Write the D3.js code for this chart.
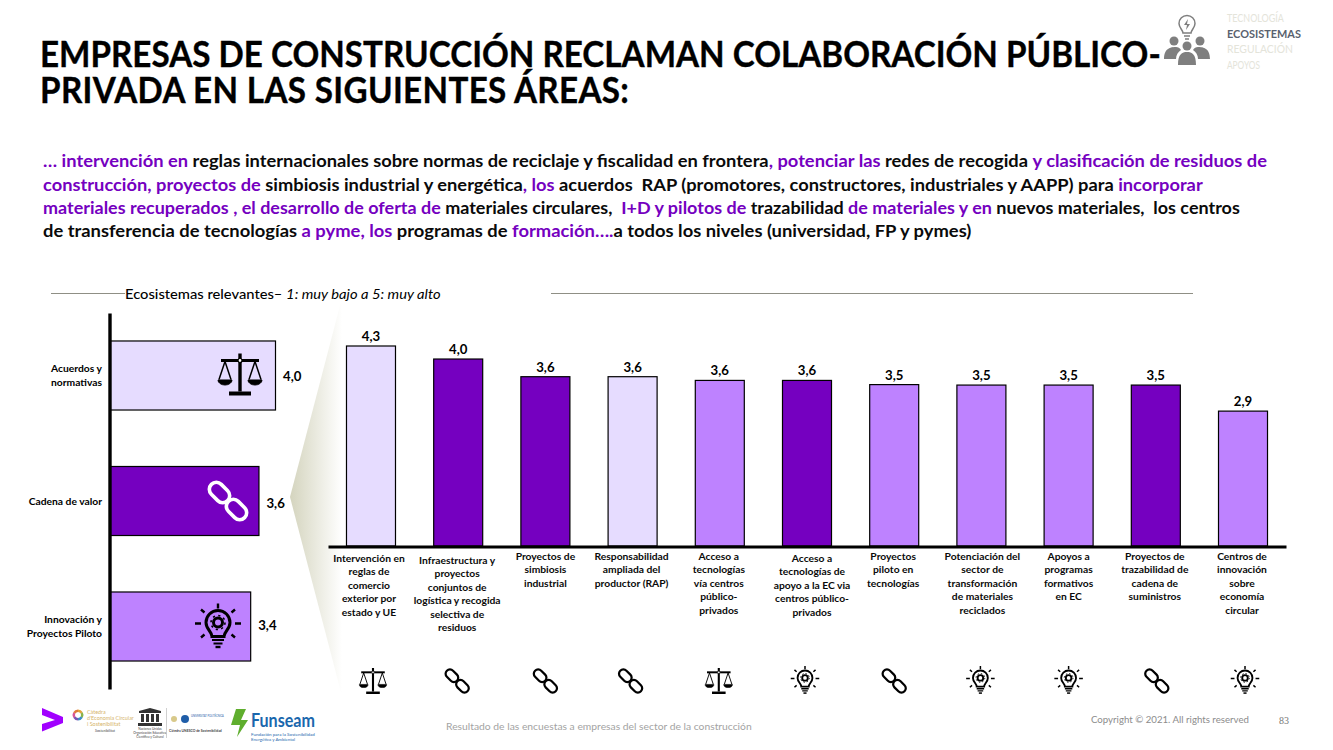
<!DOCTYPE html>
<html><head><meta charset="utf-8">
<script src="https://cdn.jsdelivr.net/npm/d3@7/dist/d3.min.js"></script>
<style>html,body{margin:0;padding:0;background:#fff}svg{display:block}text{font-family:Lato,"Open Sans",sans-serif}</style>
</head><body><svg id="c" width="1333" height="750"></svg>
<script>
// ---- data ----
const ecoCategories = [["Acuerdos y","normativas"],["Cadena de valor"],["Innovación y","Proyectos Piloto"]];
const ecoValues = [4.0,3.6,3.4];
const ecoGroups = ["norm","cadena","innov"];
const areaLabels = [
 ["Intervención en","reglas de","comercio","exterior por","estado y UE"],
 ["Infraestructura y","proyectos","conjuntos de","logística y recogida","selectiva de","residuos"],
 ["Proyectos de","simbiosis","industrial"],
 ["Responsabilidad","ampliada del","productor (RAP)"],
 ["Acceso a","tecnologías","vía centros","público-","privados"],
 ["Acceso a","tecnologías de","apoyo a la EC via","centros público-","privados"],
 ["Proyectos","piloto en","tecnologías"],
 ["Potenciación del","sector de","transformación","de materiales","reciclados"],
 ["Apoyos a","programas","formativos","en EC"],
 ["Proyectos de","trazabilidad de","cadena de","suministros"],
 ["Centros de","innovación","sobre","economía","circular"]];
const areaValues = [4.30,4.02,3.64,3.64,3.56,3.56,3.47,3.46,3.46,3.46,2.90];
const areaGroups = ["norm","cadena","cadena","norm","innov","cadena","innov","innov","innov","cadena","innov"];
const areaIcons = ["norm","cadena","cadena","cadena","norm","innov","cadena","innov","innov","cadena","innov"];
const sections = ["TECNOLOGÍA","ECOSISTEMAS","REGULACIÓN","APOYOS"];
const titleLines = ["EMPRESAS DE CONSTRUCCIÓN RECLAMAN COLABORACIÓN PÚBLICO-","PRIVADA EN LAS SIGUIENTES ÁREAS:"];
const bodyLines = [
 [["… intervención en ",1],["reglas internacionales sobre normas de reciclaje y fiscalidad en frontera",0],[", potenciar las ",1],["redes de recogida ",0],["y clasificación de residuos de",1]],
 [["construcción, proyectos de ",1],["simbiosis industrial y energética",0],[", los ",1],["acuerdos  RAP (promotores, constructores, industriales y AAPP) para ",0],["incorporar",1]],
 [["materiales recuperados , el desarrollo de oferta de ",1],["materiales circulares,  ",0],["I+D y pilotos de ",1],["trazabilidad ",0],["de materiales y en ",1],["nuevos materiales,  los centros",0]],
 [["de transferencia de tecnologías ",0],["a pyme, los ",1],["programas de ",0],["formación….",1],["a todos los niveles (universidad, FP y pymes)",0]]];

// ---- layout ----
const BODY_W=[1224,1160,1197,929], BODY_Y=[167,191,214,237];
const LABEL_DY=[2,4,0,0,0,2,0,0,0,0,0], LABEL_DX=[-2,-1,0,-1,-1,5,-1,1,0,-1,-1];
const ICON_DX=[2,-1,0,-2,-1,-2,0,-1,0,1,2];
const PURPLE="#7500c0";
const color=d3.scaleOrdinal().domain(["norm","cadena","innov"]).range(["#e6dcff","#7500c0","#be82ff"]);
const svg=d3.select("#c");
const fmt=v=>d3.format(".1f")(v).replace(".",",");

function fit(sel,x,y,w){
  const k=w/sel.node().getComputedTextLength();
  sel.attr("transform",`translate(${x},${y}) scale(${k},1)`);
}
function put(t,x,y,w,o={}){
  const s=svg.append("text").text(t).attr("font-size",o.size||11).attr("font-weight",o.weight||400)
    .attr("fill",o.fill||"#000").attr("font-style",o.style||null);
  if(w) fit(s,x,y,w); else s.attr("x",x).attr("y",y).attr("text-anchor",o.anchor||"start");
  return s;
}

// ---- icons, drawn around (0,0) in a 44-unit box ----
function icon(g,type,c){
  g.attr("fill","none").attr("stroke",c).attr("stroke-linecap","butt");
  if(type==="norm"){
    g.append("path").attr("d","M0,-21V17").attr("stroke-width",3.4);
    g.append("path").attr("d","M-19,-14H19").attr("stroke-width",3.2);
    g.append("path").attr("d","M-11,19H11").attr("stroke-width",4);
    g.append("circle").attr("r",2).attr("cy",-14).attr("fill","#fff").attr("stroke-width",1.2);
    [-1,1].forEach(s=>{
      g.append("path").attr("d",`M${s*15},-13L${s*21},5M${s*15},-13L${s*9},5`).attr("stroke-width",1.5);
      g.append("path").attr("d",`M${s*8},5.5H${s*22}A${s*-7},5 0 0 ${s>0?1:0} ${s*8},5.5Z`).attr("fill",c).attr("stroke-width",1);
    });
  } else if(type==="cadena"){
    [[-8.5,-8.5],[8.5,8.5]].forEach(p=>{
      g.append("rect").attr("x",-11.5).attr("y",-7).attr("width",23).attr("height",14).attr("rx",7)
       .attr("transform",`translate(${p[0]},${p[1]}) rotate(45)`).attr("stroke-width",3.6);
    });
  } else {
    g.append("path").attr("d","M-6,9C-6,4 -12,2 -12,-5A12,12 0 1 1 12,-5C12,2 6,4 6,9Z").attr("stroke-width",3);
    g.append("circle").attr("cy",-5).attr("r",4.5).attr("stroke-width",3);
    g.append("circle").attr("cy",-5).attr("r",7).attr("stroke-width",1.6).attr("stroke-dasharray","2.2 3.3");
    g.append("path").attr("d","M-6,12.5H6M-4.5,16H4.5").attr("stroke-width",2.2);
    g.append("path").attr("d","M-2.5,19.5H2.5").attr("stroke-width",2.4);
    g.append("path").attr("d","M0,-24V-19M-17,-18L-13.5,-15M17,-18L13.5,-15M-23,-4H-17M23,-4H17M-17,10L-13.5,7M17,10L13.5,7").attr("stroke-width",2.4);
  }
}

// ---- gradient wedge ----
const defs=svg.append("defs");
const lg=defs.append("linearGradient").attr("id","wedge").attr("x1",0).attr("x2",1).attr("y1",0).attr("y2",0);
lg.append("stop").attr("offset",0).attr("stop-color","#d4d4be");
lg.append("stop").attr("offset",1).attr("stop-color","#ffffff");
svg.append("path").attr("d","M290,497L342,298V696Z").attr("fill","url(#wedge)");

// ---- title & body ----
const ttl=svg.append("text").attr("font-size",36).attr("font-weight",700).attr("fill","#000").attr("stroke","#000").attr("stroke-width",.35);
const t0=ttl.append("tspan").text(titleLines[0]).attr("x",0).attr("y",0);
ttl.append("tspan").text(titleLines[1]).attr("x",0).attr("y",36).attr("letter-spacing",.36);
ttl.attr("transform",`translate(40,67) scale(${1121/t0.node().getComputedTextLength()},1)`);
bodyLines.forEach((line,i)=>{
  const t=svg.append("text").attr("font-size",16.6).attr("font-weight",700);
  line.forEach(([s,p])=>t.append("tspan").text(s).attr("fill",p?PURPLE:"#0a0a0a").style("white-space","pre"));
  t.style("white-space","pre");
  fit(t,43,BODY_Y[i],BODY_W[i]);
});

// ---- top right nav ----
sections.forEach((s,i)=>put(s,1227,[22,38,53,69][i],[57,74,66,33][i],{size:12,weight:i===1?700:400,fill:i===1?"#59626e":"#e4e4da"}));
const nav=svg.append("g").attr("transform","translate(1187,27)");
nav.append("path").attr("d","M-4,6C-4,3 -8,1 -8,-3.5A8,8 0 1 1 8,-3.5C8,1 4,3 4,6Z").attr("fill","none").attr("stroke","#7f7f7f").attr("stroke-width",1.5);
nav.append("path").attr("d","M1,-8L-3,-2H0L-1,3L3,-3H0Z").attr("fill","#7f7f7f");
nav.append("path").attr("d","M-3,9H3M-2,12H2").attr("stroke","#7f7f7f").attr("stroke-width",1.3);
[[-13,14,4.5],[13,14,4.5],[0,19,4.5]].forEach(p=>nav.append("circle").attr("cx",p[0]).attr("cy",p[1]).attr("r",p[2]).attr("fill","#7f7f7f"));
nav.append("path").attr("d","M-23,32C-23,21 -16,20 -11,20C-9,20 -7,21 -6,23C-9,25 -11,28 -11,32ZM23,32C23,21 16,20 11,20C9,20 7,21 6,23C9,25 11,28 11,32ZM-9,38C-9,27 -5,25 0,25C5,25 9,27 9,38Z").attr("fill","#7f7f7f");

// ---- section header ----
svg.append("path").attr("d","M51,293.5H125M551,293.5H1193").attr("stroke","#8f8f85").attr("stroke-width",1);
const hd=svg.append("text").attr("font-size",12.5).attr("fill","#000").style("white-space","pre");
hd.append("tspan").text("Ecosistemas relevantes– ").attr("font-weight",500);
hd.append("tspan").text("1: muy bajo a 5: muy alto").attr("font-style","italic");
fit(hd,125,299,316);

// ---- left bars ----
const ex=d3.scaleLinear().domain([0,4]).range([110,275.5]);
const ey=d3.scaleBand().domain(ecoGroups).range([313,689]).paddingInner(0.45).paddingOuter(0.223);
svg.selectAll(".eb").data(ecoValues).join("rect").attr("class","eb")
  .attr("x",ex(0)).attr("y",(d,i)=>ey(ecoGroups[i])).attr("width",d=>ex(d)-ex(0)).attr("height",ey.bandwidth())
  .attr("fill",(d,i)=>color(ecoGroups[i])).attr("stroke","#000").attr("stroke-width",1.2);
const ay=svg.append("g").attr("transform","translate(109.5,0)").call(d3.axisLeft(ey).tickSize(0).tickFormat(""));
ay.select(".domain").attr("stroke","#000").attr("stroke-width",3.4);
svg.selectAll(".ev").data(ecoValues).join("text").attr("class","ev").text(fmt)
  .attr("x",d=>ex(d)+7.5).attr("y",(d,i)=>ey(ecoGroups[i])+ey.bandwidth()/2+[1,2,-1][i]+4.5)
  .attr("font-size",13.2).attr("font-weight",700);
ecoCategories.forEach((ls,i)=>{
  const cy=ey(ecoGroups[i])+ey.bandwidth()/2;
  ls.forEach((l,j)=>svg.append("text").text(l).attr("x",102).attr("y",cy+(j-(ls.length-1)/2)*14+3.5)
    .attr("text-anchor","end").attr("font-size",10.3).attr("font-weight",700));
});
ecoGroups.forEach((g,i)=>{
  const s=svg.append("g").attr("transform",`translate(${[240,228,218][i]},${ey(g)+ey.bandwidth()/2-[1,0,-1][i]})`);
  icon(s,g,i===1?"#fff":"#000");
});

// ---- column chart ----
const x=d3.scaleBand().domain(d3.range(areaValues.length)).range([328,1286]).paddingInner(0.438).paddingOuter(0.212);
const y=d3.scaleLinear().domain([0,4.3]).range([546,346]);
svg.selectAll(".b").data(areaValues).join("rect").attr("class","b")
  .attr("x",(d,i)=>x(i)).attr("y",d=>y(d)).attr("width",x.bandwidth()).attr("height",d=>y(0)-y(d))
  .attr("fill",(d,i)=>color(areaGroups[i])).attr("stroke","#000").attr("stroke-width",1.2);
const ax=svg.append("g").attr("transform","translate(0,546.5)").call(d3.axisBottom(x).tickSize(0).tickFormat(""));
ax.select(".domain").attr("stroke","#000").attr("stroke-width",3);
svg.selectAll(".v").data(areaValues).join("text").attr("class","v").text(fmt)
  .attr("x",(d,i)=>x(i)+x.bandwidth()/2).attr("y",d=>y(d)-5).attr("text-anchor","middle")
  .attr("font-size",13.2).attr("font-weight",700);
areaLabels.forEach((ls,i)=>{
  const cx=x(i)+x.bandwidth()/2+LABEL_DX[i];
  ls.forEach((l,j)=>svg.append("text").text(l).attr("x",cx).attr("y",560+LABEL_DY[i]+j*13.4)
    .attr("text-anchor","middle").attr("font-size",10.3).attr("font-weight",700).attr("fill","#0a0a0a"));
  const s=svg.append("g").attr("transform",`translate(${x(i)+x.bandwidth()/2+ICON_DX[i]},681) scale(.62)`);
  icon(s,areaIcons[i],"#000");
});

// ---- footer ----
put("Resultado de las encuestas a empresas del sector de la construcción",446,730,306,{size:10,fill:"#a3a3a3"});
put("Copyright © 2021. All rights reserved",1091,723,158,{size:10,fill:"#8c8c8c"});
svg.append("text").text("83").attr("x",1279).attr("y",724).attr("font-size",10).attr("fill","#777").style("font-family","'Liberation Serif',serif");

// ---- logos ----
svg.append("path").attr("d","M42,708L63,717V723L42,731.5V724L55,720L42,715Z").attr("fill","#a100ff");
const ring=["#e2a33a","#8ab44a","#3b8fc4","#7a55b5","#d8559a","#e0793a"];
d3.select("#c").append("g").attr("transform","translate(78,715)").selectAll("path")
  .data(d3.pie().value(1)(ring)).join("path").attr("d",d3.arc().innerRadius(3).outerRadius(5.5)).attr("fill",d=>d.data);
["Càtedra","d'Economia Circular","i Sostenibilitat"].forEach((t,i)=>put(t,87,[714,720,726][i],null,{size:5.4,fill:"#d6b46a"}));
put("Sostenibilitat",95,732,null,{size:3.5,fill:"#444"});
svg.append("path").attr("d","M139,711L150,708L161,711V713H139ZM141,714H144V722H141ZM146,714H149V722H146ZM151,714H154V722H151ZM156,714H159V722H156ZM138,723H162V726H138Z").attr("fill","#333");
["Naciones Unidas","Organización Educativa,","Científica y Cultural"].forEach((t,i)=>put(t,150,[730,734,738][i],null,{size:3.2,fill:"#444",anchor:"middle"}));
svg.append("path").attr("d","M166.5,708V738").attr("stroke","#bbb").attr("stroke-width",.7);
svg.append("circle").attr("cx",185).attr("cy",719).attr("r",4).attr("fill","#1f5da8");
svg.append("circle").attr("cx",174).attr("cy",719).attr("r",3).attr("fill","#d8c98a");
put("Càtedra UNESCO de Sostenibilidad",169,732,53,{size:4,weight:700,fill:"#444"});
put("UNIVERSITAT POLITÈCNICA",191,717,33,{size:3,fill:"#1f5da8"});
svg.append("path").attr("d","M236,709H246L241,720H248L237,737L240,725H231Z").attr("fill","#5fae2e");
put("Funseam",251,727,64,{size:18,weight:700,fill:"#1a67ad"});
put("Fundación para la Sostenibilidad",251,735.5,64,{size:4.6,fill:"#1a67ad"});
put("Energética y Ambiental",251,740.5,44,{size:4.6,fill:"#1a67ad"});
</script></body></html>
